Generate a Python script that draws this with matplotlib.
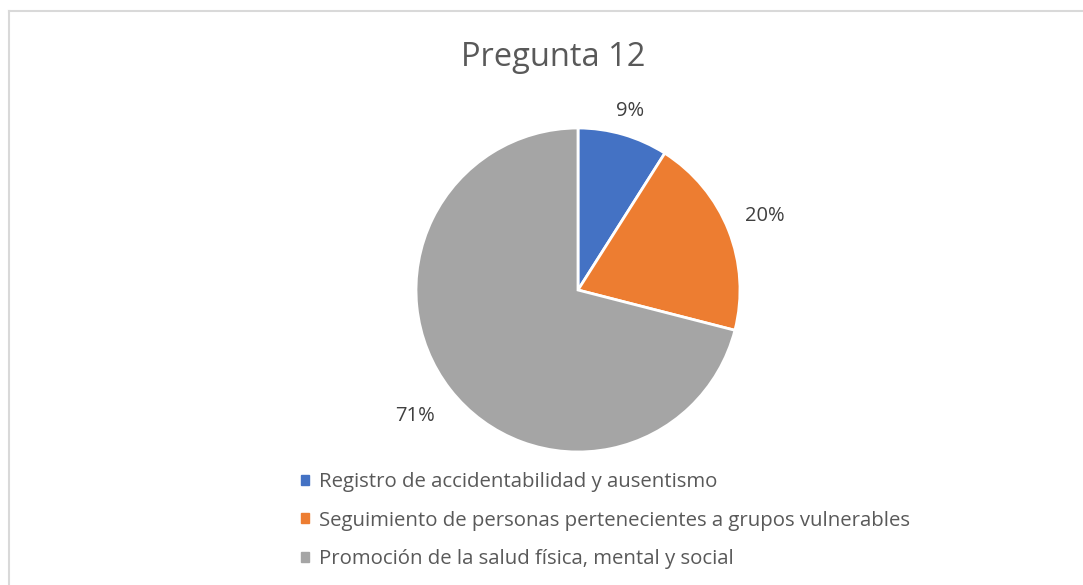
import numpy as np
import matplotlib.pyplot as plt
from matplotlib.lines import Line2D

plt.rcParams['font.family'] = ['Open Sans', 'DejaVu Sans']

title = 'Pregunta 12'
categories = ['Registro de accidentabilidad y ausentismo',
              'Seguimiento de personas pertenecientes a grupos vulnerables',
              'Promoción de la salud física, mental y social']
values = [9, 20, 71]
colors = ['#4472C4', '#ED7D31', '#A5A5A5']
label_dist = [1.15, 1.24, 1.27]

W, H = 1083, 585
fig = plt.figure(figsize=(W / 100, H / 100), dpi=100)

# light frame (only top/left visible in the original crop)
fig.add_artist(Line2D([9 / W, 9 / W], [0, 1 - 11 / H], color='#D9D9D9', lw=1.5))
fig.add_artist(Line2D([9 / W, 1], [1 - 11 / H, 1 - 11 / H], color='#D9D9D9', lw=1.5))

cx, cy, r = 578, 290, 162
ax = fig.add_axes([(cx - r) / W, (H - cy - r) / H, 2 * r / W, 2 * r / H])
wedges, _ = ax.pie(values, colors=colors, startangle=90, counterclock=False,
                   radius=1, wedgeprops=dict(edgecolor='white', linewidth=2))
ax.set_xlim(-1, 1)
ax.set_ylim(-1, 1)
ax.set_aspect('equal')
ax.axis('off')

for w, v, d in zip(wedges, values, label_dist):
    ang = np.deg2rad((w.theta1 + w.theta2) / 2)
    ax.text(d * np.cos(ang), d * np.sin(ang), f'{v}%', ha='center', va='center',
            fontsize=14.5, color='#404040', clip_on=False)

fig.text(553 / W, 1 - 57 / H, title, ha='center', va='center', fontsize=23.5, color='#595959')

handles = [plt.Rectangle((0, 0), 1, 1, color=c) for c in colors]
fig.legend(handles, categories, loc='upper left', bbox_to_anchor=(291 / W, 1 - 462 / H),
           frameon=False, fontsize=14.7, handlelength=0.4, handleheight=0.4,
           handletextpad=0.45, labelspacing=0.9, labelcolor='#595959', borderpad=0)

fig.savefig('out.png', dpi=100, facecolor='white')
